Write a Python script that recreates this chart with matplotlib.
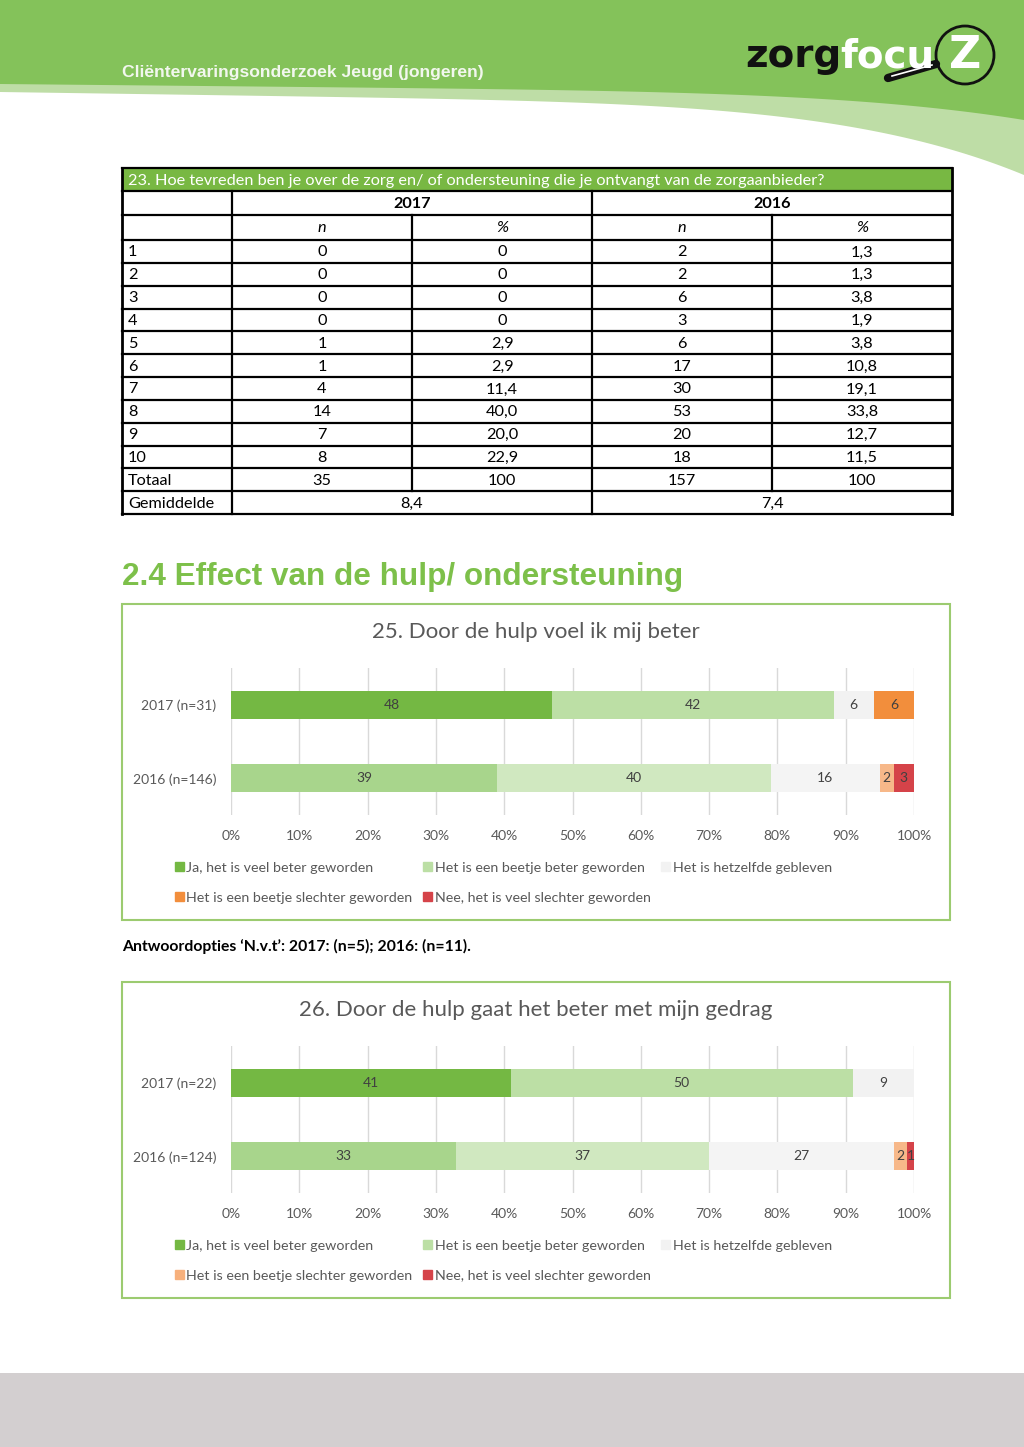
import numpy as np
import matplotlib
matplotlib.use("Agg")
import matplotlib.pyplot as plt
from matplotlib.patches import Rectangle, Circle, Patch

W, H = 1024, 1447

# ---------------- data ----------------
table_title = "23. Hoe tevreden ben je over de zorg en/ of ondersteuning die je ontvangt van de zorgaanbieder?"
years = ["2017", "2016"]
scores = ["1", "2", "3", "4", "5", "6", "7", "8", "9", "10", "Totaal"]
n_2017 = ["0", "0", "0", "0", "1", "1", "4", "14", "7", "8", "35"]
pct_2017 = ["0", "0", "0", "0", "2,9", "2,9", "11,4", "40,0", "20,0", "22,9", "100"]
n_2016 = ["2", "2", "6", "3", "6", "17", "30", "53", "20", "18", "157"]
pct_2016 = ["1,3", "1,3", "3,8", "1,9", "3,8", "10,8", "19,1", "33,8", "12,7", "11,5", "100"]
mean_label = "Gemiddelde"
means = ["8,4", "7,4"]

answers = ["Ja, het is veel beter geworden", "Het is een beetje beter geworden",
           "Het is hetzelfde gebleven", "Het is een beetje slechter geworden",
           "Nee, het is veel slechter geworden"]

q25_title = "25. Door de hulp voel ik mij beter"
q25_cats = ["2017 (n=31)", "2016 (n=146)"]
q25_2017 = [48, 42, 6, 6, 0]
q25_2016 = [39, 40, 16, 2, 3]

q26_title = "26. Door de hulp gaat het beter met mijn gedrag"
q26_cats = ["2017 (n=22)", "2016 (n=124)"]
q26_2017 = [41, 50, 9, 0, 0]
q26_2016 = [33, 37, 27, 2, 1]

footnote = "Antwoordopties \u2018N.v.t\u2019: 2017: (n=5); 2016: (n=11)."

# colours
col_2017 = ["#74B843", "#BCDFA5", "#F2F2F2", "#F28E3C", "#D54349"]
col_2016 = ["#A8D58C", "#D0E8C0", "#F4F4F4", "#F7B889", "#D54349"]
leg_25 = ["#74B843", "#BCDFA5", "#F2F2F2", "#F28E3C", "#D54349"]
leg_26 = ["#74B843", "#BCDFA5", "#F2F2F2", "#F7B07C", "#D54349"]

GREEN = "#84C25A"
LIGHT_GREEN = "#BEDDA6"
BOX_GREEN = "#9CCB70"
TXT = "#595959"
FONT = "Lato"

fig = plt.figure(figsize=(W / 100, H / 100), dpi=100)
bg = fig.add_axes([0, 0, 1, 1])
bg.set_xlim(0, W)
bg.set_ylim(H, 0)
bg.axis("off")


def px_axes(x0, y0, x1, y1):
    return fig.add_axes([x0 / W, 1 - y1 / H, (x1 - x0) / W, (y1 - y0) / H])


# ---------------- header ----------------
xs = np.linspace(0, W, 300)
t = xs / W
y_dark = 84 + 10 * t + 26 * t ** 6
y_light = 92 + 15 * t + 68 * t ** 6
bg.fill_between(xs, 0, y_light, color=LIGHT_GREEN, lw=0)
bg.fill_between(xs, 0, y_dark, color=GREEN, lw=0)
bg.text(122, 72, "Cli\u00ebntervaringsonderzoek Jeugd (jongeren)", color="#F2F7EE",
        fontsize=12.6, fontweight="bold", family="Liberation Sans", va="center")
# logo
bg.text(745, 56, "zorg", color="#111111", fontsize=28, fontweight="heavy",
        family="DejaVu Sans", va="center")
bg.text(840, 56, "focu", color="white", fontsize=28, fontweight="heavy",
        family="DejaVu Sans", va="center")
bg.plot([888, 936], [78, 64], color="#111111", lw=6, solid_capstyle="round")
bg.plot([892, 932], [76, 65], color="white", lw=1.2)
bg.add_patch(Circle((965, 55), 29, fill=False, ec="#111111", lw=2))
bg.text(965, 56, "Z", color="white", fontsize=32, fontweight="heavy",
        family="DejaVu Sans", va="center", ha="center")

# ---------------- table ----------------
col_x = [122, 232, 412, 592, 772, 952]
row_y = [168, 191, 215] + list(np.linspace(240, 514, 13))
lw_t = 1.6
bg.add_patch(Rectangle((col_x[0], row_y[0]), col_x[-1] - col_x[0], row_y[1] - row_y[0],
                       facecolor="#78B843", edgecolor="none"))
for y in row_y:
    bg.plot([col_x[0], col_x[-1]], [y, y], color="black", lw=lw_t)
for x in (col_x[0], col_x[-1]):
    bg.plot([x, x], [row_y[0], row_y[-1]], color="black", lw=lw_t + 0.4)
for x in (col_x[1], col_x[3]):
    bg.plot([x, x], [row_y[1], row_y[-1]], color="black", lw=lw_t)
for x in (col_x[2], col_x[4]):
    bg.plot([x, x], [row_y[2], row_y[-2]], color="black", lw=lw_t)

tfs = 11.7
bg.text(128, (row_y[0] + row_y[1]) / 2 + 1, table_title, color="white", fontsize=tfs,
        family=FONT, va="center")
for k, yr in enumerate(years):
    bg.text((col_x[1 + 2 * k] + col_x[3 + 2 * k]) / 2, (row_y[1] + row_y[2]) / 2 + 1, yr,
            fontsize=tfs, family=FONT, fontweight="bold", ha="center", va="center")
for j, lab in enumerate(["n", "%", "n", "%"]):
    bg.text((col_x[1 + j] + col_x[2 + j]) / 2, (row_y[2] + row_y[3]) / 2 + 1, lab,
            fontsize=tfs, family=FONT, style="italic", ha="center", va="center")
for i, s in enumerate(scores):
    yc = (row_y[3 + i] + row_y[4 + i]) / 2 + 1
    bg.text(128, yc, s, fontsize=tfs, family=FONT, va="center")
    for j, colvals in enumerate([n_2017, pct_2017, n_2016, pct_2016]):
        bg.text((col_x[1 + j] + col_x[2 + j]) / 2, yc, colvals[i], fontsize=tfs,
                family=FONT, ha="center", va="center")
yc = (row_y[-2] + row_y[-1]) / 2 + 1
bg.text(128, yc, mean_label, fontsize=tfs, family=FONT, va="center")
for k, m in enumerate(means):
    bg.text((col_x[1 + 2 * k] + col_x[3 + 2 * k]) / 2, yc, m, fontsize=tfs,
            family=FONT, ha="center", va="center")

# ---------------- section heading ----------------
bg.text(122, 577, "2.4 Effect van de hulp/ ondersteuning", color="#7DC04A",
        fontsize=22.7, fontweight="bold", family="Liberation Sans", va="center")
bg.text(122, 946, footnote, fontsize=11.3, family=FONT, fontweight="bold", va="center")

# bottom band
bg.add_patch(Rectangle((0, 1373), W, H - 1373, facecolor="#D3CFD0", edgecolor="none"))


# ---------------- charts ----------------
def draw_chart(top, title, cats, rows, leg_cols):
    bg.add_patch(Rectangle((122, top), 828, 316, fill=False, ec=BOX_GREEN, lw=1.5))
    bg.text(536, top + 28, title, color=TXT, fontsize=16, family=FONT,
            ha="center", va="center")
    ax = px_axes(231, top + 64, 914, top + 211)
    ax.set_facecolor("none")
    for i, (vals, cols) in enumerate(rows):
        tot = sum(vals)
        left = 0.0
        for v, c in zip(vals, cols):
            w = v / tot
            if v > 0:
                ax.barh(i, w, left=left, height=0.38, color=c, zorder=2)
                ax.text(left + w / 2, i, str(v), ha="center", va="center",
                        fontsize=10, color="#404040", family=FONT, zorder=3)
            left += w
    ax.set_xlim(0, 1)
    ax.set_ylim(1.5, -0.5)
    ax.set_xticks(np.arange(0, 1.01, 0.1))
    ax.set_xticklabels([f"{int(round(v * 100))}%" for v in np.arange(0, 1.01, 0.1)])
    ax.set_yticks(range(len(cats)))
    ax.set_yticklabels(cats)
    ax.tick_params(length=0, labelsize=10, labelcolor=TXT)
    ax.tick_params(axis="x", pad=11)
    ax.tick_params(axis="y", pad=10.5)
    for lab in ax.get_xticklabels() + ax.get_yticklabels():
        lab.set_family(FONT)
    ax.grid(axis="x", color="#D9D9D9", lw=1, zorder=0)
    ax.set_axisbelow(True)
    for s in ax.spines.values():
        s.set_visible(False)
    handles = [Patch(color=c) for c in leg_cols]
    order = [0, 3, 1, 4, 2]
    fig.legend([handles[k] for k in order], [answers[k] for k in order], ncol=3,
               loc="upper left", bbox_to_anchor=(175 / W, 1 - (top + 258) / H),
               frameon=False, borderpad=0, borderaxespad=0, handlelength=0.6,
               handleheight=0.6, handletextpad=0.2, columnspacing=0.75,
               labelspacing=1.25, prop={"family": FONT, "size": 10.3}, labelcolor=TXT)


draw_chart(604, q25_title, q25_cats, [(q25_2017, col_2017), (q25_2016, col_2016)], leg_25)
draw_chart(982, q26_title, q26_cats, [(q26_2017, col_2017), (q26_2016, col_2016)], leg_26)

fig.savefig("out.png", dpi=100)
